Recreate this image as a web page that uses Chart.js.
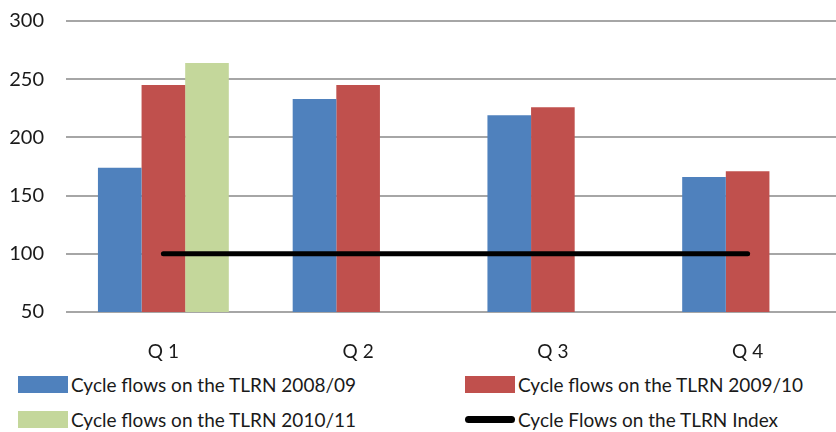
<!DOCTYPE html>
<html lang="en">
<head>
    <meta charset="UTF-8">
    <title>Cycle flows on the TLRN</title>
    <style>
        body {
            margin: 0;
            width: 836px;
            height: 432px;
            overflow: hidden;
            background: #fff;
            font-family: Lato, "Open Sans", sans-serif;
        }
        #chartBox {
            width: 845px;
            height: 379px;
            margin-top: -13px;
        }
        #legend {
            position: absolute;
            left: 0;
            top: 373px;
            width: 836px;
        }
        .item {
            position: absolute;
            display: flex;
            align-items: center;
            font-size: 19px;
            color: #1a1a1a;
            white-space: nowrap;
        }
        .swatch {
            width: 50px;
            height: 17px;
            margin-right: 3px;
        }
        .swatch.line {
            height: 7px;
            border-radius: 4px;
        }
    </style>
    <script src="https://cdn.jsdelivr.net/npm/chart.js"></script>
</head>
<body>
    <div id="chartBox"><canvas id="chartCanvas"></canvas></div>
    <div id="legend"></div>

    <script>
        // data
        const quarters = ["Q 1", "Q 2", "Q 3", "Q 4"];
        const flows0809 = [174, 233, 219, 166];
        const flows0910 = [245, 245, 226, 171];
        const flows1011 = [264, null, null, null];
        const indexLine = [100, 100, 100, 100];
        const yTicks = [50, 100, 150, 200, 250, 300];

        const seriesNames = [
            "Cycle flows on the TLRN 2008/09",
            "Cycle flows on the TLRN 2009/10",
            "Cycle flows on the TLRN 2010/11",
            "Cycle Flows on the TLRN Index"
        ];
        const seriesColors = ["#4f81bd", "#c0504d", "#c4d79b", "#000000"];

        const ctx = document.getElementById('chartCanvas').getContext('2d');
        const chart = new Chart(ctx, {
            type: 'bar',
            data: {
                labels: quarters,
                datasets: [
                    { label: seriesNames[0], data: flows0809, backgroundColor: seriesColors[0], order: 2 },
                    { label: seriesNames[1], data: flows0910, backgroundColor: seriesColors[1], order: 2 },
                    { label: seriesNames[2], data: flows1011, backgroundColor: seriesColors[2], order: 2 },
                    {
                        type: 'line',
                        label: seriesNames[3],
                        data: indexLine,
                        borderColor: seriesColors[3],
                        borderWidth: 5,
                        borderCapStyle: 'round',
                        pointRadius: 0,
                        fill: false,
                        order: 1
                    }
                ]
            },
            options: {
                responsive: true,
                maintainAspectRatio: false,
                animation: false,
                layout: { padding: 0 },
                datasets: {
                    bar: { categoryPercentage: 0.672, barPercentage: 1.0 }
                },
                plugins: {
                    legend: { display: false },
                    tooltip: { enabled: false }
                },
                scales: {
                    x: {
                        afterFit: (scale) => { scale.height = 54; },
                        grid: { display: false, drawTicks: false },
                        border: { display: false },
                        ticks: {
                            padding: 28,
                            color: '#1a1a1a',
                            font: { family: 'Lato', size: 19 }
                        }
                    },
                    y: {
                        min: 50,
                        max: 300,
                        afterFit: (scale) => { scale.width = 66; },
                        afterBuildTicks: (scale) => { scale.ticks = yTicks.map(v => ({ value: v })); },
                        grid: { color: '#a6a6a6', lineWidth: 2, drawTicks: false },
                        border: { display: false },
                        ticks: {
                            padding: 22,
                            color: '#1a1a1a',
                            font: { family: 'Lato', size: 20 }
                        }
                    }
                }
            }
        });

        // legend in two columns like the original
        const legendPos = [[18, 0], [465, 0], [18, 35], [465, 35]];
        const legendBox = document.getElementById('legend');
        seriesNames.forEach((name, i) => {
            const item = document.createElement('div');
            item.className = 'item';
            item.style.left = legendPos[i][0] + 'px';
            item.style.top = legendPos[i][1] + 'px';
            const sw = document.createElement('span');
            sw.className = i === 3 ? 'swatch line' : 'swatch';
            sw.style.background = seriesColors[i];
            const txt = document.createElement('span');
            txt.textContent = name;
            item.appendChild(sw);
            item.appendChild(txt);
            legendBox.appendChild(item);
        });
    </script>
</body>
</html>
